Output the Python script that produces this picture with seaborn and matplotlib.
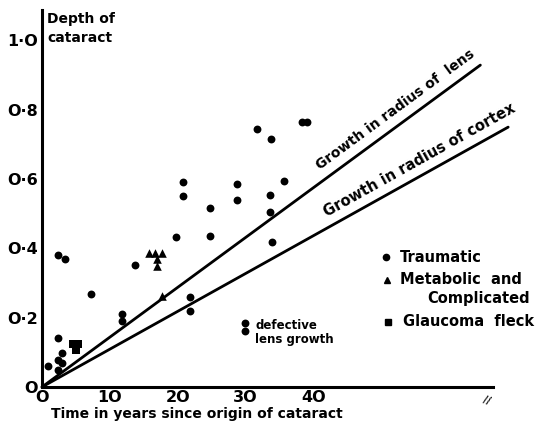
import numpy as np
import pandas as pd
import matplotlib
matplotlib.use("Agg")
import matplotlib.pyplot as plt
import seaborn as sns

# values (years, depth)
traumatic_x = [0.9, 2.3, 2.9, 2.3, 2.9, 2.3, 2.3, 3.4, 7.2, 11.8, 11.8, 13.7,
               19.8, 20.8, 20.8, 24.8, 24.8, 28.7, 28.7, 31.7, 33.7, 33.6,
               33.6, 33.9, 35.7, 38.3, 39.0, 21.8, 21.8]
traumatic_y = [0.061, 0.141, 0.097, 0.078, 0.070, 0.049, 0.381, 0.369, 0.268,
               0.211, 0.191, 0.353, 0.434, 0.592, 0.552, 0.516, 0.436, 0.586,
               0.540, 0.744, 0.716, 0.555, 0.504, 0.418, 0.595, 0.764, 0.764,
               0.261, 0.220]
defective_x = [29.9, 29.9]
defective_y = [0.184, 0.162]
metabolic_x = [15.7, 16.7, 17.7, 16.9, 16.9, 17.7]
metabolic_y = [0.388, 0.388, 0.388, 0.369, 0.349, 0.263]
glaucoma_x = [4.6, 5.3, 5.0]
glaucoma_y = [0.124, 0.124, 0.108]

# growth lines: start and end points
lens_x = [0, 64.6]
lens_y = [0, 0.929]
cortex_x = [0, 68.7]
cortex_y = [0, 0.750]

x_ticks = [0, 10, 20, 30, 40]
x_labels = ["O", "1O", "2O", "3O", "4O"]
y_ticks = [0, 0.2, 0.4, 0.6, 0.8, 1.0]
y_labels = ["O", "O·2", "O·4", "O·6", "O·8", "1·O"]

sns.set_style("white")
plt.rcParams["font.family"] = ["DejaVu Sans"]
plt.rcParams["font.weight"] = "bold"
for key in ["text.color", "axes.labelcolor", "xtick.color", "ytick.color",
            "xtick.labelcolor", "ytick.labelcolor", "axes.edgecolor"]:
    plt.rcParams[key] = "black"

fig = plt.figure(figsize=(5.37, 4.32), dpi=100)
ax = fig.add_axes([42 / 537, 45 / 432, 475 / 537, 377 / 432])

points = pd.DataFrame({
    "x": traumatic_x + defective_x + metabolic_x + glaucoma_x,
    "y": traumatic_y + defective_y + metabolic_y + glaucoma_y,
    "kind": (["Traumatic"] * len(traumatic_x) + ["Traumatic"] * len(defective_x)
             + ["Metabolic"] * len(metabolic_x) + ["Glaucoma"] * len(glaucoma_x)),
})
sizes = {"Traumatic": 32, "Metabolic": 38, "Glaucoma": 30}
for kind, mk in [("Traumatic", "o"), ("Metabolic", "^"), ("Glaucoma", "s")]:
    sns.scatterplot(data=points[points["kind"] == kind], x="x", y="y", marker=mk,
                    color="black", s=sizes[kind], edgecolor="black", linewidth=0,
                    ax=ax, legend=False, zorder=3, clip_on=False)

lines = pd.DataFrame({
    "x": lens_x + cortex_x,
    "y": lens_y + cortex_y,
    "which": ["lens"] * 2 + ["cortex"] * 2,
})
sns.lineplot(data=lines, x="x", y="y", units="which", estimator=None,
             color="black", linewidth=2, ax=ax, legend=False, clip_on=False)

ax.set_xlim(0, 70)
ax.set_ylim(0, 1.088)
ax.set_xticks(x_ticks)
ax.set_xticklabels(x_labels)
ax.set_yticks(y_ticks)
ax.set_yticklabels(y_labels)
ax.tick_params(direction="in", length=4, width=1.2, labelsize=11.5, pad=3, color="black")
ax.tick_params(axis="x", pad=2)
for lab in ax.get_xticklabels() + ax.get_yticklabels():
    lab.set_fontweight("bold")
ax.set_xlabel("")
ax.set_ylabel("")

for side in ["top", "right"]:
    ax.spines[side].set_visible(False)
for side in ["left", "bottom"]:
    ax.spines[side].set_linewidth(2.2)
    ax.spines[side].set_color("black")
ax.spines["bottom"].set_bounds(0, 66.4)

# labels along the growth lines
ax.text(41, 0.626, "Growth in radius of  lens", rotation=36.3, rotation_mode="anchor",
        ha="left", va="baseline", fontsize=10, fontweight="bold")
ax.text(42, 0.49, "Growth in radius of cortex", rotation=29.2, rotation_mode="anchor",
        ha="left", va="baseline", fontsize=10.5, fontweight="bold")

# hand-made key
ax.plot([50.7], [0.374], marker="o", color="black", markersize=4.5, clip_on=False)
ax.text(52.8, 0.374, "Traumatic", va="center", fontsize=10.5, fontweight="bold")
ax.plot([50.9], [0.31], marker="^", color="black", markersize=5, clip_on=False)
ax.text(52.8, 0.31, "Metabolic  and", va="center", fontsize=10.5, fontweight="bold")
ax.text(56.8, 0.255, "Complicated", va="center", fontsize=10.5, fontweight="bold")
ax.plot([51.0], [0.188], marker="s", color="black", markersize=4.5, clip_on=False)
ax.text(53.2, 0.188, "Glaucoma  fleck", va="center", fontsize=10.5, fontweight="bold")

ax.text(31.4, 0.197, "defective\nlens growth", va="top", ha="left", fontsize=8.5,
        fontweight="bold", linespacing=1.1)

# axis break mark
ax.text(65.5, -0.04, "//", fontsize=7, fontweight="bold", ha="center", va="center",
        rotation=-20, clip_on=False)

fig.text(47 / 537, 1 - 12 / 432, "Depth of\ncataract", ha="left", va="top",
         fontsize=10, fontweight="bold", linespacing=1.45)
fig.text(197 / 537, 1 - 414 / 432, "Time in years since origin of cataract",
         ha="center", va="center", fontsize=10, fontweight="bold")

fig.savefig("out.png", dpi=100)
